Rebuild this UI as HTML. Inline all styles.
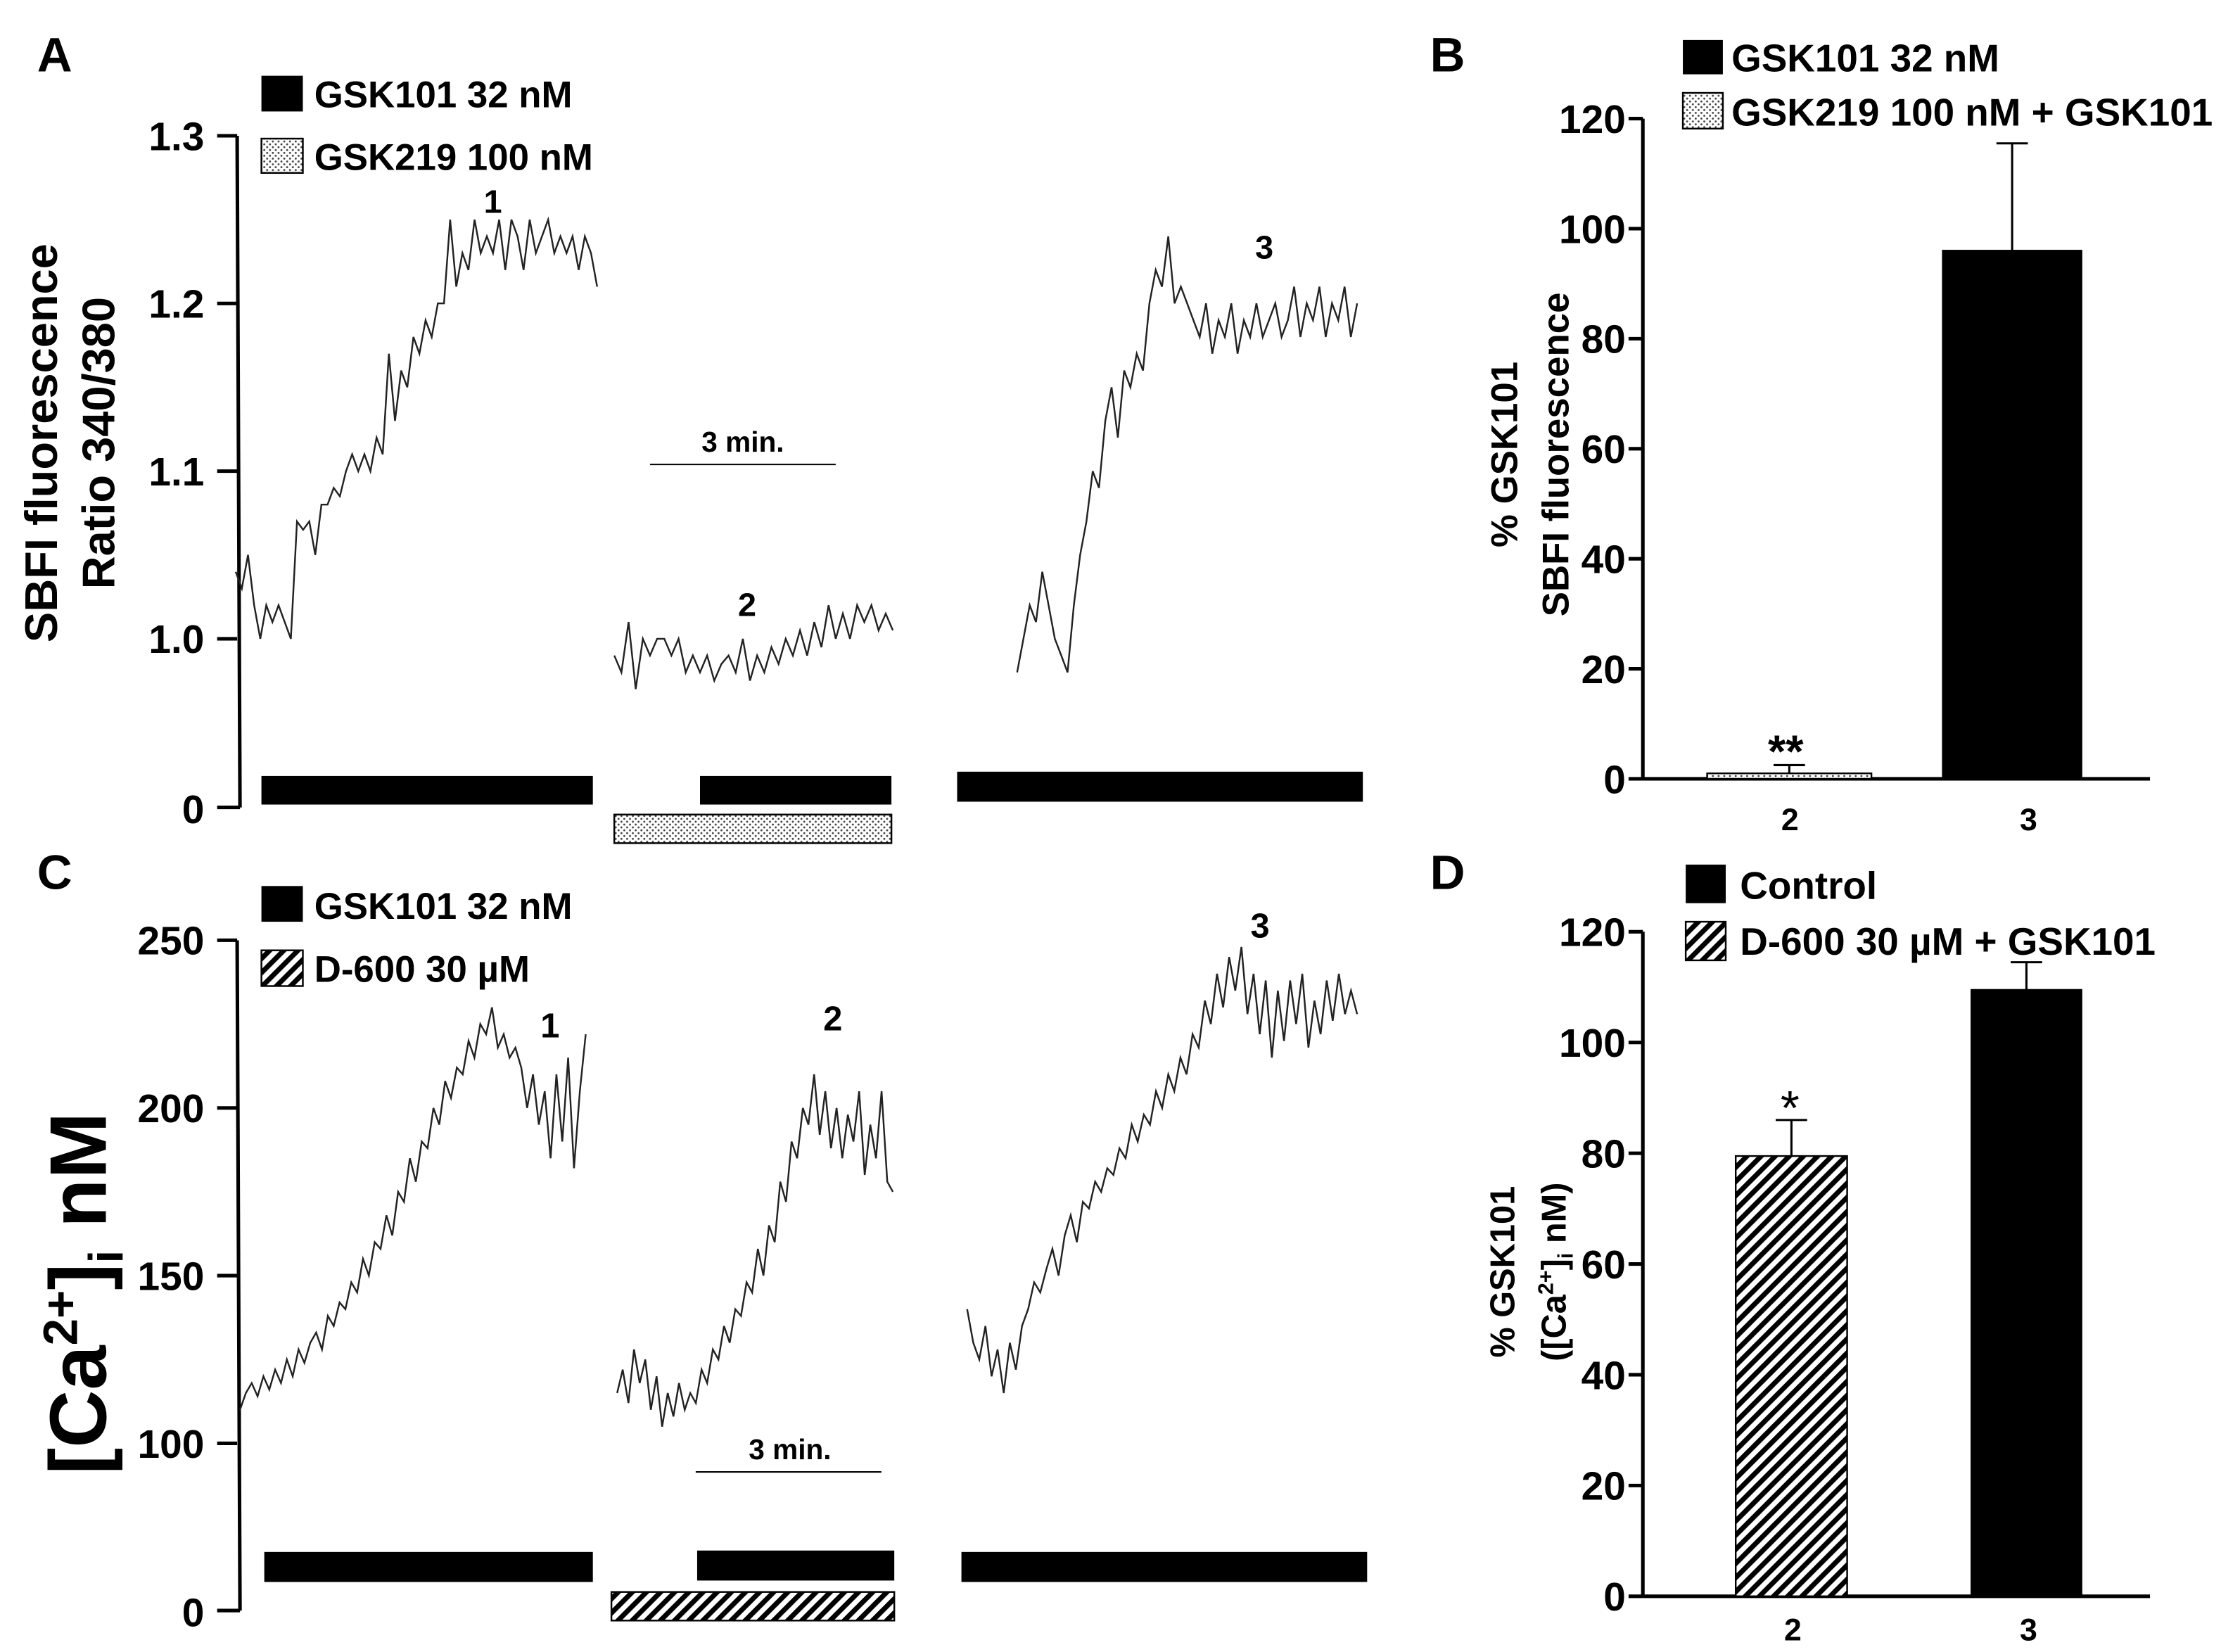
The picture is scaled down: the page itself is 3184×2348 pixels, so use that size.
<!DOCTYPE html>
<html><head><meta charset="utf-8"><style>
html,body{margin:0;padding:0;background:#fff}
svg{display:block}
text{font-family:"Liberation Sans",Arial,sans-serif;fill:#000}
.b{font-weight:bold}
</style></head><body>
<svg id="fig" width="3184" height="2348" viewBox="0 0 1568 1156" preserveAspectRatio="none" xmlns="http://www.w3.org/2000/svg">
<defs>
<pattern id="dots" width="4" height="4" patternUnits="userSpaceOnUse"><rect width="4" height="4" fill="#fff"/><circle cx="1" cy="1" r="0.7" fill="#444"/><circle cx="3" cy="3" r="0.7" fill="#444"/></pattern>
<pattern id="hatch" width="7" height="7" patternUnits="userSpaceOnUse" patternTransform="rotate(45)"><rect width="7" height="7" fill="#fff"/><rect width="3.5" height="7" fill="#000"/></pattern>
</defs>
<g id="root"></g>
</svg>
<script>
// ---- data ----
const traceA1 = [1.04,1.03,1.05,1.02,1.0,1.02,1.01,1.02,1.01,1.0,1.07,1.065,1.07,1.05,1.08,1.08,1.09,1.085,1.1,1.11,1.1,1.11,1.1,1.12,1.11,1.17,1.13,1.16,1.15,1.18,1.17,1.19,1.18,1.2,1.2,1.25,1.21,1.23,1.22,1.25,1.23,1.24,1.23,1.25,1.22,1.25,1.24,1.22,1.25,1.23,1.24,1.25,1.23,1.24,1.23,1.24,1.22,1.24,1.23,1.21];
const traceA2 = [0.99,0.98,1.01,0.97,1.0,0.99,1.0,1.0,0.99,1.0,0.98,0.99,0.98,0.99,0.975,0.985,0.99,0.98,1.0,0.975,0.99,0.98,0.995,0.985,1.0,0.99,1.005,0.99,1.01,0.995,1.02,1.0,1.015,1.0,1.02,1.01,1.02,1.005,1.015,1.005];
const traceA3 = [0.98,1.0,1.02,1.01,1.04,1.02,1.0,0.99,0.98,1.02,1.05,1.07,1.1,1.09,1.13,1.15,1.12,1.16,1.15,1.17,1.16,1.2,1.22,1.21,1.24,1.2,1.21,1.2,1.19,1.18,1.2,1.17,1.19,1.18,1.2,1.17,1.19,1.18,1.2,1.18,1.19,1.2,1.18,1.19,1.21,1.18,1.2,1.19,1.21,1.18,1.2,1.19,1.21,1.18,1.2];
const traceC1 = [110,115,118,114,120,116,122,118,125,120,128,124,130,133,128,138,135,142,140,148,145,155,150,160,158,168,162,175,172,185,178,190,188,200,195,208,203,212,210,220,215,225,222,230,218,222,215,218,212,200,210,195,205,185,210,190,215,182,205,222];
const traceC2 = [115,122,112,128,118,125,110,120,105,115,108,118,110,115,112,122,118,128,125,135,130,140,138,148,145,158,150,165,160,178,172,190,185,200,195,210,192,205,188,200,185,198,190,205,180,195,185,205,178,175];
const traceC3 = [140,130,125,135,120,128,115,130,122,135,140,148,145,152,158,150,162,168,160,172,170,178,175,182,180,188,185,195,190,198,195,205,200,210,205,215,210,222,218,232,225,240,230,245,235,248,228,240,222,238,215,235,220,238,225,240,218,232,222,238,226,240,228,235,228];
const ticksA = ["1.3","1.2","1.1","1.0","0"];
const ticksAVals = [1.3,1.2,1.1,1.0];
const ticksC = [250,200,150,100];
const barCats = ["2","3"];
const barsB = [1, 96];
const errB = [1.5, 19.5];
const barsD = [79.5, 109.5];
const errD = [6.5, 5];
const ticksBar = [0,20,40,60,80,100,120];

const NS="http://www.w3.org/2000/svg";
const root=document.getElementById('root');
function mk(tag,attrs,parent,txt){const e=document.createElementNS(NS,tag);for(const k in attrs)e.setAttribute(k,attrs[k]);if(txt!==undefined)e.textContent=txt;(parent||root).appendChild(e);return e;}

const yA = v => 447 - (v-1.0)*1173.3;
const yC = v => 1010 - (v-100)*2.347;
const yB = v => 545 - v*3.85;
const yD = v => 1117 - v*3.875;

function trace(arr,x0,x1,yf,name){
  const d=arr.map((v,i)=>(i?'L':'M')+(x0+(x1-x0)*i/(arr.length-1)).toFixed(1)+' '+yf(v).toFixed(1)).join(' ');
  const p=mk('path',{d:d,fill:'none',stroke:'#222','stroke-width':1.2});
  
  
}
function txt(x,y,s,size,opts){
  opts=opts||{};
  const t=mk('text',{x:x,y:y,'font-size':size,'text-anchor':opts.anchor||'start'},null,s);
  if(opts.bold!==false)t.setAttribute('class','b');
  if(opts.rot)t.setAttribute('transform','rotate(-90 '+x+' '+y+')');
  
  
  return t;
}
function rect(x,y,w,h,fill,name,stroke){
  const r=mk('rect',{x:x,y:y,width:w,height:h,fill:fill});
  if(stroke){r.setAttribute('stroke','#000');r.setAttribute('stroke-width',1.2);}
  
  
}
function line(x1,y1,x2,y2,w,name){
  const l=mk('line',{x1:x1,y1:y1,x2:x2,y2:y2,stroke:'#000','stroke-width':w});
  
  
}

// ===== Panel A =====
txt(26,50,'A',34,{name:'panel-label-a'});
rect(183,53,29,25,'#000','legend-swatch-gsk101');
txt(220,75,'GSK101 32 nM',26,{name:'legend-gsk101'});
rect(183,97,29,24,'url(#dots)','legend-swatch-gsk219',true);
txt(220,119,'GSK219 100 nM',26,{name:'legend-gsk219'});
line(166,95,168,565,2.5,'y-axis-a');
ticksAVals.forEach((v,i)=>{line(152,yA(v),166,yA(v),2.5,'y-tick-a');txt(143,yA(v)+10,ticksA[i],28,{anchor:'end',name:'y-tick-label-a'});});
line(152,565,168,565,2.5,'y-tick-a');txt(143,576,'0',28,{anchor:'end',name:'y-tick-label-a'});
txt(40,310,'SBFI fluorescence',32,{rot:true,anchor:'middle',name:'y-axis-title-a'});
txt(80,310,'Ratio 340/380',32,{rot:true,anchor:'middle',name:'y-axis-title-a-2'});
trace(traceA1,165,418,yA,'trace-a1');
trace(traceA2,430,625,yA,'trace-a2');
trace(traceA3,712,950,yA,'trace-a3');
txt(345,149,'1',23,{anchor:'middle',name:'trace-label-1'});
txt(523,431,'2',23,{anchor:'middle',name:'trace-label-2'});
txt(885,181,'3',23,{anchor:'middle',name:'trace-label-3'});
line(455,325,585,325,1,'scale-bar-a');
txt(520,316,'3 min.',20,{anchor:'middle',name:'scale-bar-label-a'});
rect(183,543,232,20,'#000','drug-bar-a1');
rect(490,543,134,20,'#000','drug-bar-a2');
rect(430,570,194,20,'url(#dots)','drug-bar-a2-gsk219',true);
rect(670,540,284,21,'#000','drug-bar-a3');

// ===== Panel B =====
txt(1001,50,'B',34,{name:'panel-label-b'});
rect(1178,28,28,24,'#000','legend-swatch-b1');
txt(1212,50,'GSK101 32 nM',27,{name:'legend-b1'});
rect(1178,65,28,25,'url(#dots)','legend-swatch-b2',true);
txt(1212,88,'GSK219 100 nM + GSK101',27,{name:'legend-b2'});
line(1150,yB(120),1150,545,2.5,'y-axis-b');
line(1150,545,1505,545,2.5,'x-axis-b');
ticksBar.forEach(v=>{line(1140,yB(v),1150,yB(v),2.5,'y-tick-b');txt(1138,yB(v)+10,String(v),28,{anchor:'end',name:'y-tick-label-b'});});
txt(1062,318,'% GSK101',26,{rot:true,anchor:'middle',name:'y-axis-title-b'});
txt(1098,318,'SBFI fluorescence',26,{rot:true,anchor:'middle',name:'y-axis-title-b-2'});
const bxB=[[1195,1310],[1360,1457]];
barsB.forEach((v,i)=>{
  const [x0,x1]=bxB[i], cx=(x0+x1)/2;
  line(cx,yB(v),cx,yB(v+errB[i]),1.5,'error-bar-b');
  line(cx-11,yB(v+errB[i]),cx+11,yB(v+errB[i]),1.5,'error-cap-b');
  rect(x0,yB(v),x1-x0,545-yB(v),i?'#000':'url(#dots)','bar-b-'+barCats[i],true);
  txt(i?1420:1253,581,barCats[i],22,{anchor:'middle',name:'x-tick-label-b'});
});
txt(1250,537,'**',32,{anchor:'middle',name:'significance-b'});

// ===== Panel C =====
txt(26,622,'C',34,{name:'panel-label-c'});
rect(183,620,29,25,'#000','legend-swatch-c1');
txt(220,643,'GSK101 32 nM',26,{name:'legend-c1'});
rect(183,665,29,25,'url(#hatch)','legend-swatch-c2',true);
txt(220,687,'D-600 30 µM',26,{name:'legend-c2'});
line(166,658,168,1127,2.5,'y-axis-c');
ticksC.forEach(v=>{line(152,yC(v),166,yC(v),2.5,'y-tick-c');txt(143,yC(v)+10,String(v),28,{anchor:'end',name:'y-tick-label-c'});});
line(152,1127,168,1127,2.5,'y-tick-c');txt(143,1138,'0',28,{anchor:'end',name:'y-tick-label-c'});
const tc=mk('text',{x:74,y:905,'font-size':56,'text-anchor':'middle',class:'b',transform:'rotate(-90 74 905)'});


tc.innerHTML='[Ca<tspan font-size="34" dy="-20">2+</tspan><tspan dy="20">]</tspan><tspan font-size="34" dy="12">i</tspan><tspan dy="-12"> nM</tspan>';
trace(traceC1,168,410,yC,'trace-c1');
trace(traceC2,432,625,yC,'trace-c2');
trace(traceC3,677,950,yC,'trace-c3');
txt(385,726,'1',24,{anchor:'middle',name:'trace-label-c1'});
txt(583,721,'2',24,{anchor:'middle',name:'trace-label-c2'});
txt(882,656,'3',24,{anchor:'middle',name:'trace-label-c3'});
line(487,1030,617,1030,1,'scale-bar-c');
txt(553,1021,'3 min.',20,{anchor:'middle',name:'scale-bar-label-c'});
rect(185,1086,230,21,'#000','drug-bar-c1');
rect(488,1085,138,21,'#000','drug-bar-c2');
rect(428,1114,198,20,'url(#hatch)','drug-bar-c2-d600',true);
rect(673,1086,284,21,'#000','drug-bar-c3');

// ===== Panel D =====
txt(1001,622,'D',34,{name:'panel-label-d'});
rect(1180,605,28,27,'#000','legend-swatch-d1');
txt(1218,629,'Control',27,{name:'legend-d1'});
rect(1180,645,28,27,'url(#hatch)','legend-swatch-d2',true);
txt(1218,668,'D-600 30 µM + GSK101',27,{name:'legend-d2'});
line(1150,yD(120),1150,1117,2.5,'y-axis-d');
line(1150,1117,1505,1117,2.5,'x-axis-d');
ticksBar.forEach(v=>{line(1140,yD(v),1150,yD(v),2.5,'y-tick-d');txt(1138,yD(v)+10,String(v),28,{anchor:'end',name:'y-tick-label-d'});});
txt(1060,890,'% GSK101',24,{rot:true,anchor:'middle',name:'y-axis-title-d'});
const td=mk('text',{x:1096,y:890,'font-size':24,'text-anchor':'middle',class:'b',transform:'rotate(-90 1096 890)'});


td.innerHTML='([Ca<tspan font-size="15" dy="-9">2+</tspan><tspan dy="9">]</tspan><tspan font-size="15" dy="5">i</tspan><tspan dy="-5"> nM)</tspan>';
const bxD=[[1215,1293],[1380,1457]];
barsD.forEach((v,i)=>{
  const [x0,x1]=bxD[i], cx=(x0+x1)/2;
  line(cx,yD(v),cx,yD(v+errD[i]),1.5,'error-bar-d');
  line(cx-11,yD(v+errD[i]),cx+11,yD(v+errD[i]),1.5,'error-cap-d');
  rect(x0,yD(v),x1-x0,1117-yD(v),i?'#000':'url(#hatch)','bar-d-'+barCats[i],true);
  txt(i?1420:1255,1148,barCats[i],22,{anchor:'middle',name:'x-tick-label-d'});
});
txt(1253,787,'*',34,{anchor:'middle',bold:false,name:'significance-d'});
</script>
</body></html>
